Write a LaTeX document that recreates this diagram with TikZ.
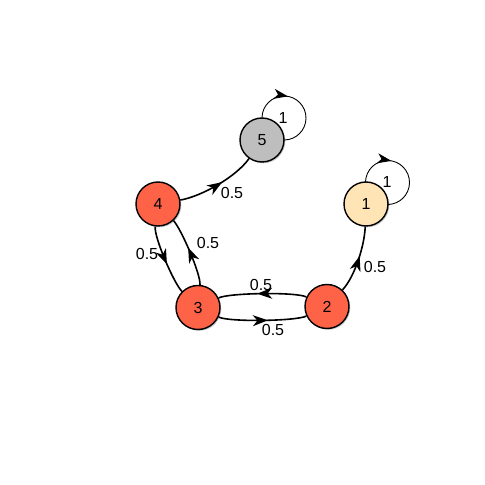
\documentclass[tikz,border=0pt]{standalone}
\usepackage{fontspec}
\setmainfont{Liberation Sans}
\usetikzlibrary{arrows.meta,decorations.markings,shadows,calc}
\definecolor{tomatoc}{HTML}{FF6347}
\definecolor{moccc}{HTML}{FFE4B5}
\definecolor{grayc}{HTML}{BEBEBE}
\tikzset{
  vnode/.style={circle, draw=black, line width=1.4pt, minimum size=44pt, inner sep=0pt,
    font=\fontsize{16}{18}\selectfont,
    drop shadow={shadow xshift=1.3pt, shadow yshift=-1.3pt, opacity=0.35, fill=black!60}},
  edgeln/.style={line width=1.6pt, looseness=0.7, postaction={decorate},
    decoration={markings, mark=at position 0.56 with {\arrow{Stealth[length=15pt,width=11pt,inset=4.5pt]}}}},
  loopln/.style={line width=0.9pt, postaction={decorate},
    decoration={markings, mark=at position 0.37 with {\arrow{Stealth[length=14pt,width=10pt,inset=4pt]}}}},
  elab/.style={inner sep=0pt, font=\fontsize{16}{18}\selectfont},
}
\begin{document}
\begin{tikzpicture}[x=1pt,y=1pt]
\useasboundingbox (0,0) rectangle (485,485);
% nodes
\node[vnode, fill=grayc]   (n5) at (262,345) {5};
\node[vnode, fill=tomatoc] (n4) at (158,281) {4};
\node[vnode, fill=tomatoc] (n3) at (198,177.5) {3};
\node[vnode, fill=tomatoc] (n2) at (327,178.5) {2};
\node[vnode, fill=moccc]   (n1) at (366,281) {1};
% loop centres
\coordinate (l5) at ($(n5)+(22,22)$);
\coordinate (l1) at ($(n1)+(21.5,21.5)$);
% edges
\draw[edgeln] (n4) to[out=10, in=235] (n5);
\draw[edgeln] (n2) to[out=47, in=268] (n1);
\draw[edgeln] (n2) to[out=155, in=25, looseness=0.35] (n3);
\draw[edgeln] (n3) to[out=-25, in=-155, looseness=0.35] (n2);
\draw[edgeln] (n4) to[out=263, in=135, looseness=0.4] (n3);
\draw[edgeln] (n3) to[out=85, in=313, looseness=0.4] (n4);
% self loops
\draw[loopln] ([shift={(179:22)}]l5) arc[start angle=179, end angle=-89, radius=22];
\draw[loopln] ([shift={(179:22)}]l1) arc[start angle=179, end angle=-89, radius=22];
% labels
\node[elab] (t45) at (232,292) {0.5};
\node[elab] (t21) at (375,218) {0.5};
\node[elab] (t23) at (261,200) {0.5};
\node[elab] (t32) at (273,155) {0.5};
\node[elab] (t43) at (147,231) {0.5};
\node[elab] (t34) at (208,242) {0.5};
\node[elab] (t55) at (283,367) {1};
\node[elab] (t11) at (387,303) {1};
\end{tikzpicture}
\end{document}
